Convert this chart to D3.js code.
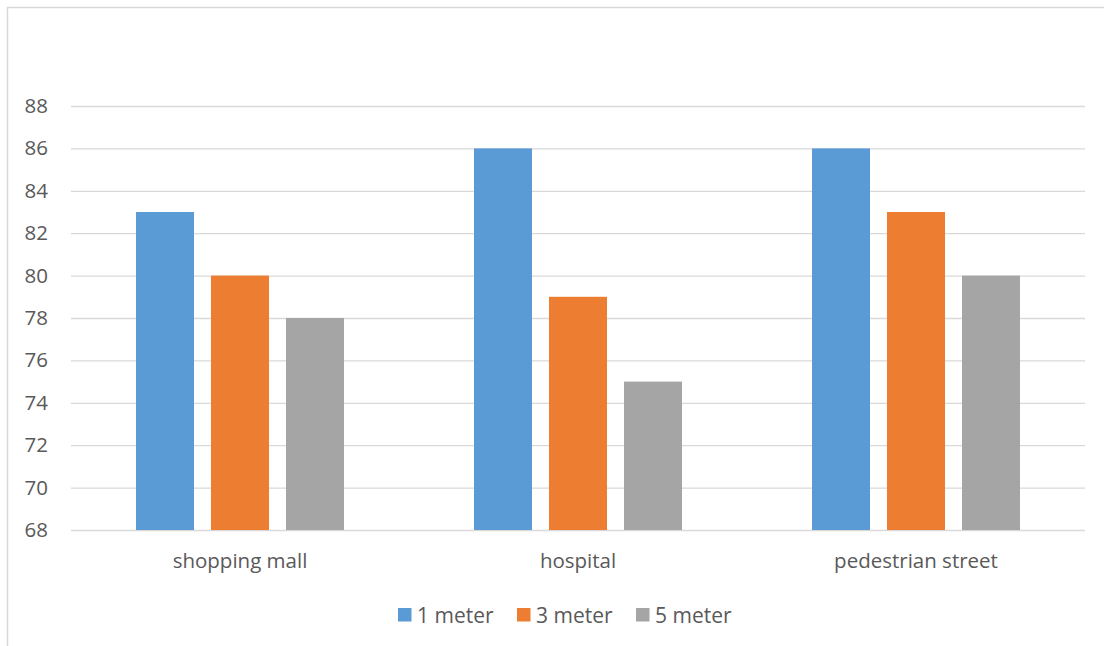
<!DOCTYPE html>
<html>
<head>
<meta charset="utf-8">
<script src="https://cdn.jsdelivr.net/npm/d3@7"></script>
<style>
  html, body { margin: 0; padding: 0; background: #fff; }
  svg { display: block; }
  text { font-family: "Open Sans", "Liberation Sans", sans-serif; fill: #595959; }
</style>
</head>
<body>
<svg id="chart" width="1104" height="646"></svg>
<script>
const categories = ["shopping mall", "hospital", "pedestrian street"];
const seriesNames = ["1 meter", "3 meter", "5 meter"];
const series1m = [83, 86, 86];
const series3m = [80, 79, 83];
const series5m = [78, 75, 80];
const yTicks = [68, 70, 72, 74, 76, 78, 80, 82, 84, 86, 88];
const colors = ["#5b9bd5", "#ed7d31", "#a5a5a5"];

(function () {
const seriesValues = [series1m, series3m, series5m];
const data = categories.map((c, i) => ({
  category: c,
  values: seriesNames.map((s, j) => ({ series: s, value: seriesValues[j][i] }))
}));

const svg = d3.select("#chart");
const W = 1104, H = 646;
const FONT = '"Open Sans", "Liberation Sans", sans-serif';

// outer frame
svg.append("rect")
  .attr("x", 7.5).attr("y", 7.5)
  .attr("width", W + 10).attr("height", H + 10)
  .attr("fill", "#fff").attr("stroke", "#d9d9d9").attr("stroke-width", 1.5);

const mLeft = 71, mRight = 1085, mTop = 106, mBottom = 530;

const y = d3.scaleLinear().domain([68, 88]).range([mBottom, mTop]);
const x0 = d3.scaleBand().domain(categories).range([mLeft, mRight]).padding(0);
const x1 = d3.scaleBand().domain(seriesNames).range([0, x0.bandwidth()])
  .paddingInner(0.2267).paddingOuter(0.8667);
const color = d3.scaleOrdinal().domain(seriesNames).range(colors);

// gridlines
const yAxis = d3.axisLeft(y).tickValues(yTicks).tickSize(-(mRight - mLeft)).tickPadding(23).tickFormat(d3.format("d"));
const gy = svg.append("g").attr("transform", `translate(${mLeft},0)`).call(yAxis);
gy.select(".domain").remove();
gy.selectAll(".tick line").attr("stroke", "#d9d9d9").attr("stroke-width", 1.3);
gy.selectAll(".tick text").attr("font-size", "20.5px").attr("fill", "#595959")
  .style("font-family", FONT);

// bars
const groups = svg.append("g").selectAll("g").data(data).join("g")
  .attr("transform", d => `translate(${x0(d.category)},0)`);
groups.selectAll("rect").data(d => d.values).join("rect")
  .attr("x", d => x1(d.series))
  .attr("width", x1.bandwidth())
  .attr("y", d => y(d.value))
  .attr("height", d => y(68) - y(d.value))
  .attr("fill", d => color(d.series));

// category axis labels
const xAxis = d3.axisBottom(x0).tickSize(0).tickPadding(23);
const gx = svg.append("g").attr("transform", `translate(0,${mBottom})`).call(xAxis);
gx.select(".domain").remove();
gx.selectAll(".tick text").attr("font-size", "20.5px").attr("fill", "#595959")
  .style("font-family", FONT);

// legend
const legendX = [398, 517, 636];
const legend = svg.append("g").selectAll("g").data(seriesNames).join("g")
  .attr("transform", (d, i) => `translate(${legendX[i]},608)`);
legend.append("rect").attr("width", 13.5).attr("height", 13.5).attr("fill", d => color(d));
legend.append("text").attr("x", 19).attr("y", 14.5).attr("font-size", "21px").text(d => d);
})();
</script>
</body>
</html>
